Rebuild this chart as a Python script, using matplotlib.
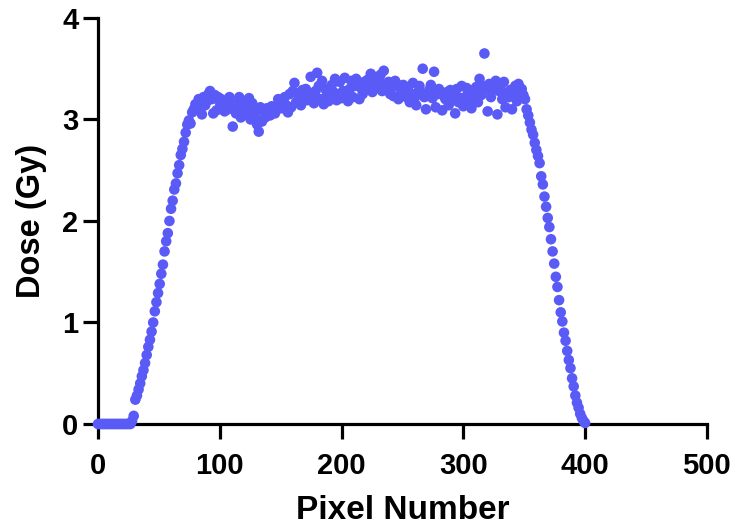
import numpy as np
import matplotlib
matplotlib.use("Agg")
import matplotlib.pyplot as plt

plt.rcParams["font.family"] = ["Liberation Sans", "DejaVu Sans"]
plt.rcParams["font.weight"] = "bold"

# Dose profile along the detector row, 301 readings spread over pixels 0..400
toe = [0.0] * 21  # outside the field, pixels 0 to ~27

rise = [  # penumbra on the left, pixels ~28-80
    0.03, 0.08, 0.24, 0.28, 0.34, 0.40, 0.47, 0.53, 0.60, 0.68,
    0.76, 0.83, 0.91, 1.00, 1.11, 1.20, 1.29, 1.38, 1.48, 1.57,
    1.70, 1.80, 1.88, 2.00, 2.12, 2.20, 2.31, 2.37, 2.47, 2.55,
    2.65, 2.71, 2.78, 2.87, 2.95, 2.99, 2.96, 3.07, 3.10, 3.15,
]

plateau = [  # flat part of the field, pixels ~81-349
    3.12, 3.20, 3.08, 3.05, 3.22, 3.14, 3.18, 3.25,
    3.28, 3.20, 3.06, 3.24, 3.09, 3.22, 3.17,
    3.20, 3.14, 3.08, 3.18, 3.10, 3.22, 3.16, 2.93,
    3.12, 3.06, 3.15, 3.22, 3.02, 3.17, 3.11,
    3.05, 3.14, 3.21, 3.00, 3.16, 3.10, 3.04, 2.95,
    2.88, 3.12, 2.98, 3.09, 3.02, 3.11, 3.07,
    3.04, 3.13, 3.09, 3.06, 3.12, 3.20, 3.15, 3.11,
    3.18, 3.22, 3.14, 3.07, 3.25, 3.12, 3.28,
    3.36, 3.17, 3.26, 3.21, 3.14, 3.29, 3.23, 3.30,
    3.19, 3.26, 3.42, 3.22, 3.16, 3.28, 3.46,
    3.33, 3.20, 3.38, 3.15, 3.30, 3.24, 3.18, 3.29,
    3.34, 3.27, 3.40, 3.19, 3.25, 3.37, 3.21,
    3.28, 3.41, 3.24, 3.18, 3.30, 3.38, 3.22, 3.33,
    3.40, 3.35, 3.20, 3.31, 3.25, 3.37, 3.29,
    3.39, 3.30, 3.45, 3.27, 3.42, 3.36, 3.31, 3.38,
    3.44, 3.28, 3.48, 3.35, 3.30, 3.37, 3.25,
    3.32, 3.23, 3.38, 3.35, 3.20, 3.31, 3.26, 3.34,
    3.28, 3.22, 3.32, 3.17, 3.25, 3.36, 3.21,
    3.14, 3.27, 3.33, 3.26, 3.50, 3.22, 3.10, 3.24,
    3.29, 3.34, 3.21, 3.47, 3.12, 3.25, 3.30,
    3.26, 3.09, 3.23, 3.20, 3.27, 3.14, 3.29, 3.19,
    3.25, 3.06, 3.30, 3.17, 3.21, 3.33, 3.13,
    3.22, 3.31, 3.18, 3.25, 3.11, 3.29, 3.23, 3.32,
    3.17, 3.40, 3.24, 3.33, 3.65, 3.30, 3.08,
    3.35, 3.22, 3.29, 3.31, 3.38, 3.05, 3.28, 3.33,
    3.20, 3.37, 3.12, 3.26, 3.22, 3.29, 3.10,
    3.25, 3.33, 3.18, 3.35, 3.21, 3.30, 3.24,
]

fall = [  # penumbra on the right, pixels ~351-400
    3.20, 3.10, 3.04, 2.97, 2.90, 2.85, 2.77, 2.70, 2.64, 2.57,
    2.44, 2.36, 2.24, 2.14, 2.03, 1.94, 1.82, 1.70, 1.58, 1.45,
    1.35, 1.22, 1.10, 1.01, 0.90, 0.82, 0.72, 0.63, 0.55, 0.45,
    0.37, 0.28, 0.21, 0.16, 0.10, 0.06, 0.03, 0.01,
]

dose = np.array(toe + rise + plateau + fall)
pixel = np.linspace(0, 400, len(dose))

x_ticks = [0, 100, 200, 300, 400, 500]
y_ticks = [0, 1, 2, 3, 4]

fig = plt.figure(figsize=(7.34, 5.28), dpi=100)
ax = fig.add_axes([0.1335, 0.197, 0.8295, 0.769])

ax.scatter(pixel, dose, s=58, color="#5A5AF7", edgecolors="none",
           zorder=3, clip_on=False)

ax.set_xlim(0, 500)
ax.set_ylim(0, 4)
ax.set_xticks(x_ticks)
ax.set_yticks(y_ticks)

for side in ("top", "right"):
    ax.spines[side].set_visible(False)
for side in ("left", "bottom"):
    ax.spines[side].set_linewidth(2.3)
    ax.spines[side].set_color("black")

ax.tick_params(axis="both", which="major", length=11, width=2.3,
               direction="out", labelsize=21, colors="black")
ax.tick_params(axis="x", pad=9)
ax.tick_params(axis="y", pad=3)
for lab in ax.get_xticklabels() + ax.get_yticklabels():
    lab.set_fontweight("bold")

ax.set_xlabel("Pixel Number", fontsize=24, fontweight="bold", labelpad=11)
ax.set_ylabel("Dose (Gy)", fontsize=23.5, fontweight="bold", labelpad=11)

fig.savefig("out.png", dpi=100)
